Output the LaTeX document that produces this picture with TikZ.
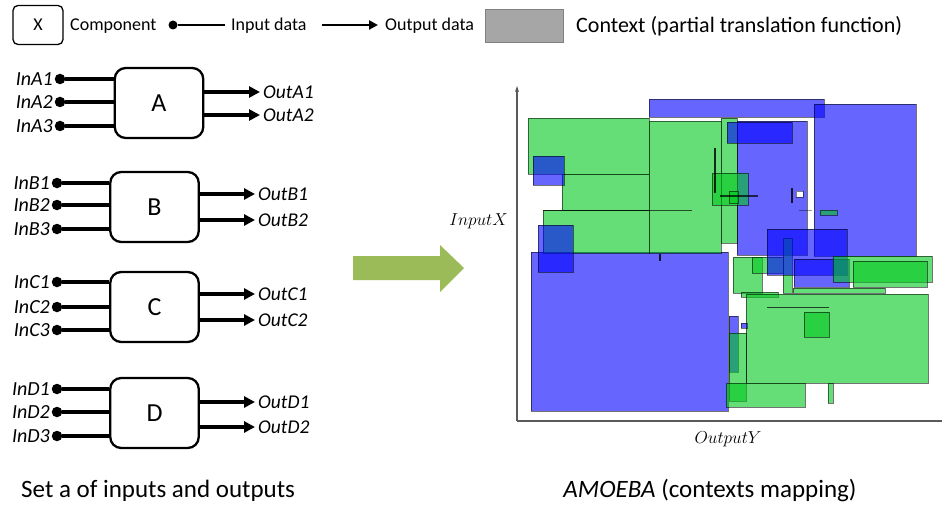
\documentclass[tikz,border=0pt]{standalone}
\usepackage{fontspec}
\setmainfont{Carlito}
\usetikzlibrary{arrows.meta}
\definecolor{ctxgreen}{RGB}{0,200,30}
\definecolor{arrowgreen}{RGB}{155,187,89}
\definecolor{legendgray}{RGB}{166,166,166}
\begin{document}
\begin{tikzpicture}[x=1pt,y=-1pt,
  comp/.style={draw, line width=2.3pt, rounded corners=11pt, fill=white, minimum width=88.5pt, minimum height=70pt, inner sep=0pt, font=\fontsize{26}{28}\selectfont},
  indot/.style={circle, fill=black, inner sep=0pt, minimum size=10.5pt},
  inwire/.style={line width=3.4pt},
  outwire/.style={line width=3.4pt, -{Triangle[length=11pt,width=11pt]}},
  inlab/.style={anchor=east, inner sep=1.5pt, font=\fontsize{20}{22}\selectfont\itshape},
  outlab/.style={anchor=west, inner sep=3pt, font=\fontsize{19.5}{22}\selectfont\itshape},
  legtext/.style={anchor=west, inner sep=0pt, font=\fontsize{18}{20}\selectfont},
  ctxb/.style={fill=blue, fill opacity=0.6, draw=black, draw opacity=0.55, line width=0.7pt},
  ctxg/.style={fill=ctxgreen, fill opacity=0.6, draw=black, draw opacity=0.55, line width=0.7pt},
  mark line/.style={draw=black, draw opacity=0.65, line width=0.8pt}
]
\useasboundingbox (0,0) rectangle (942,508);

% ---------- legend ----------
\node[draw, line width=1.3pt, rounded corners=5pt, minimum width=50pt, minimum height=39pt, inner sep=0pt, font=\fontsize{18}{20}\selectfont] (legX) at (38,25) {X};
\node[legtext] (legComp) at (70,26) {Component};
\node[indot, minimum size=9pt] (legDot) at (173,25) {};
\coordinate (legInEnd) at (225,25);
\draw[line width=2.2pt] (legDot) -- (legInEnd);
\node[legtext] (legIn) at (231,26) {Input data};
\coordinate (legOutA) at (322,25);
\coordinate (legOutB) at (378,25);
\draw[line width=2.2pt, -{Triangle[length=9pt,width=9pt]}] (legOutA) -- (legOutB);
\node[legtext] (legOut) at (385,26) {Output data};
\node[draw={rgb,255:red,128;green,128;blue,128}, fill=legendgray, line width=0.8pt, minimum width=78pt, minimum height=33pt, inner sep=0pt] (legCtx) at (524,25.5) {};
\node[anchor=west, inner sep=0pt, font=\fontsize{22}{24}\selectfont] (legCtxT) at (576,26) {Context (partial translation function)};

% ---------- components ----------
\foreach \L/\cx/\cy/\ia/\ib/\ic/\oa/\ob/\dx/\tx in {A/159/103/79/102/126/92/115/60/260, B/154.5/207/183/205/229/194/220/57/255, C/154.5/307/282/307/330/294/320/57/255, D/154.5/413/389/412/436/402/427/57/255}{
  \node[comp] (\L) at (\cx,\cy) {\L};
  \foreach \i/\yy in {1/\ia,2/\ib,3/\ic}{
    \node[indot] (in\L\i) at (\dx,\yy) {};
    \draw[inwire] (in\L\i) -- (in\L\i -| \L.west);
    \node[inlab] (lin\L\i) at (in\L\i.west) {In\L\i};
  }
  \foreach \i/\yy in {1/\oa,2/\ob}{
    \coordinate (out\L\i) at (\tx,\yy);
    \draw[outwire] (\L.east |- out\L\i) -- (out\L\i);
    \node[outlab] (lout\L\i) at (out\L\i) {Out\L\i};
  }
}
\node[anchor=west, inner sep=0pt, font=\fontsize{25}{27}\selectfont] (setlab) at (21,491) {Set a of inputs and outputs};

% ---------- big arrow ----------
\fill[arrowgreen] (353,256) -- (440,256) -- (440,245) -- (464,268) -- (440,292) -- (440,280) -- (353,280) -- cycle;

% ---------- axes ----------
\coordinate (origin) at (517,421);
\coordinate (ytop) at (517,86);
\coordinate (xend) at (942,421);
\draw[line width=1.1pt, draw={rgb,255:red,90;green,90;blue,90}, -{Stealth[length=6pt,width=4pt]}] (origin) -- (ytop);
\draw[line width=1.1pt, draw={rgb,255:red,90;green,90;blue,90}] (origin) -- (xend);
\node[anchor=east, inner sep=0pt, font=\fontsize{18}{20}\selectfont] (ylab) at (508,221) {$InputX$};
\node[inner sep=0pt, font=\fontsize{18}{20}\selectfont] (xlab) at (728,439) {$OutputY$};
\node[inner sep=0pt, font=\fontsize{25}{27}\selectfont] (amoeba) at (710,491) {\textit{AMOEBA} (contexts mapping)};

% ---------- contexts ----------
\draw[ctxb] (649,99) rectangle (824,117);
\draw[ctxb] (814,104) rectangle (916,256);
\draw[ctxb] (737,121) rectangle (807,255);
\draw[ctxb] (531,252) rectangle (728,411);
\draw[ctxg] (528,118) rectangle (649,174);
\draw[ctxg] (562,174) rectangle (649,210);
\draw[ctxg] (543,210) rectangle (649,253);
\draw[ctxg] (649,121) rectangle (721,253);
\draw[ctxg] (721,118) rectangle (737,243);
\draw[ctxb] (533,156) rectangle (564,185);
\draw[ctxb] (538,225) rectangle (573,272);
\draw[ctxb] (727,122) rectangle (792,143);
\draw[ctxg] (712,173) rectangle (748,205);
\draw[ctxg] (729,191) rectangle (738,203);
\draw[ctxg] (820,210) rectangle (837,215);
\draw[ctxg] (733,257) rectangle (762,293);
\draw[ctxg] (752,257) rectangle (783,273);
\draw[ctxg] (783,238) rectangle (792,293);
\draw[ctxb] (767,229) rectangle (847,275);
\draw[ctxb] (794,259) rectangle (849,287);
\draw[ctxg] (833,256) rectangle (932,282);
\draw[ctxg] (853,261) rectangle (927,287);
\draw[ctxg] (741,292) rectangle (778,297);
\draw[ctxg] (793,288) rectangle (885,293);
\draw[ctxg] (746,294) rectangle (928,383);
\draw[ctxg] (804,312) rectangle (829,337);
\draw[ctxb] (729,316) rectangle (738,372);
\draw[ctxb] (741,323) rectangle (747,328);
\draw[ctxg] (729,333) rectangle (746,401);
\draw[ctxg] (726,383) rectangle (805,407);
\draw[ctxg] (828,383) rectangle (833,403);
% marks
\draw[mark line] (543,210) -- (692,210);
\draw[mark line, line width=2.2pt, draw opacity=0.8] (715,148) -- (715,193);
\draw[mark line, line width=2pt, draw opacity=0.7] (720,196) -- (758,196);
\draw[mark line, line width=2pt, draw opacity=0.8] (792,188) -- (792,203);
\draw[fill=white, draw=black, draw opacity=0.5, line width=0.6pt] (796,191) rectangle (803,197);
\draw[mark line, draw opacity=0.4] (799,210) -- (812,210);
\draw[mark line, draw opacity=0.7] (767,307) -- (829,307);
\draw[mark line, line width=2pt, draw opacity=0.8] (660,254) -- (660,261);
\end{tikzpicture}
\end{document}
